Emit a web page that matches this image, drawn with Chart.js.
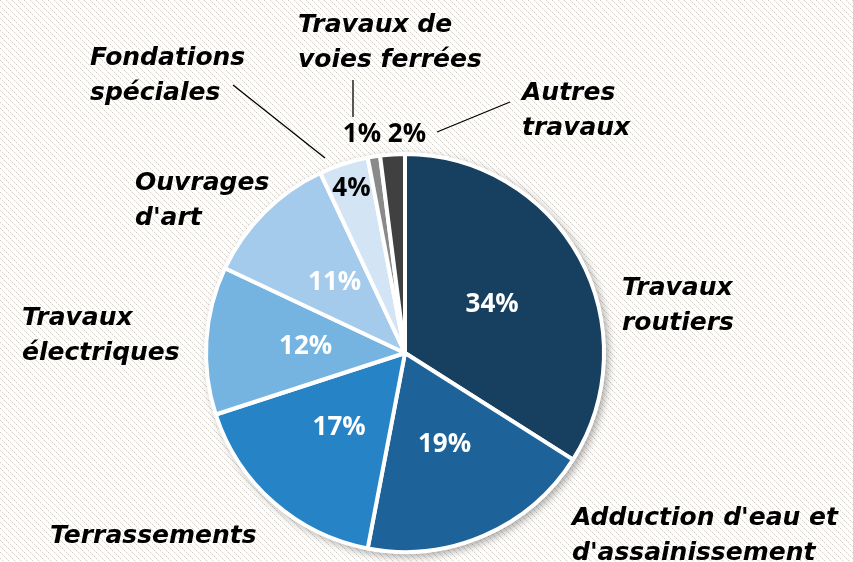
<!DOCTYPE html>
<html>
<head>
<meta charset="utf-8">
<script src="https://cdn.jsdelivr.net/npm/chart.js@4/dist/chart.umd.min.js"></script>
<style>
  html, body { margin: 0; padding: 0; background: #ffffff; }
  #wrap { position: relative; width: 853px; height: 562px; }
  canvas { display: block; }
</style>
</head>
<body>
<div id="wrap"><canvas id="c" width="853" height="562"></canvas></div>
<script>
// ---- data ----
const categories = [
  "Travaux routiers",
  "Adduction d'eau et d'assainissement",
  "Terrassements",
  "Travaux électriques",
  "Ouvrages d'art",
  "Fondations spéciales",
  "Travaux de voies ferrées",
  "Autres travaux"
];
const shares = [34, 19, 17, 12, 11, 4, 1, 2];
const sliceColors = ["#173f5f", "#1d6399", "#2683c6", "#75b3e1", "#a4cbeb", "#d3e5f5", "#8a8a8a", "#404040"];

// ---- layout (label placement, not data) ----
const catLabelLines = [
  ["Travaux", "routiers"],
  ["Adduction d'eau et", "d'assainissement"],
  ["Terrassements"],
  ["Travaux", "électriques"],
  ["Ouvrages", "d'art"],
  ["Fondations", "spéciales"],
  ["Travaux de", "voies ferrées"],
  ["Autres", "travaux"]
];
// left x, first-line center y
const catLabelPos = [[622, 288], [572, 518], [50, 536], [22, 318], [135, 183], [90, 58], [298, 25], [522, 93]];
const lineGap = 35;
const valRadial = [0.5, 0.5, 0.5, 0.5, 0.5, 0.87, null, null];
const valCustom = {6: [-43, -218], 7: [2, -218]};
const valColor = ["#fff", "#fff", "#fff", "#fff", "#fff", "#000", "#000", "#000"];
const leaders = {5: [[233, 85], [325, 158]], 6: [[353, 80], [353, 117]], 7: [[510, 102], [437, 132]]};

function makePattern(ctx) {
  const t = document.createElement('canvas');
  t.width = 6; t.height = 6;
  const g = t.getContext('2d');
  g.fillStyle = '#ffffff'; g.fillRect(0, 0, 6, 6);
  g.fillStyle = '#d6d0c6';
  [[0,0],[2,2],[4,4]].forEach(p => g.fillRect(p[0], p[1], 1, 1));
  g.fillStyle = '#ece8e2';
  [[1,1],[3,3],[5,5]].forEach(p => g.fillRect(p[0], p[1], 1, 1));
  return ctx.createPattern(t, 'repeat');
}

const bgPlugin = {
  id: 'bg',
  beforeDraw(chart) {
    const ctx = chart.ctx;
    ctx.save();
    ctx.fillStyle = makePattern(ctx);
    ctx.fillRect(0, 0, chart.width, chart.height);
    ctx.restore();
  },
  beforeDatasetsDraw(chart) {
    const arc = chart.getDatasetMeta(0).data[0];
    if (!arc) return;
    const {x, y, outerRadius} = arc.getProps(['x', 'y', 'outerRadius'], true);
    const ctx = chart.ctx;
    ctx.save();
    ctx.shadowColor = 'rgba(0,0,0,0.35)';
    ctx.shadowBlur = 8;
    ctx.shadowOffsetX = 3;
    ctx.shadowOffsetY = 3;
    ctx.fillStyle = '#ffffff';
    ctx.beginPath();
    ctx.arc(x, y, outerRadius + 1.5, 0, Math.PI * 2);
    ctx.fill();
    ctx.restore();
  }
};

const labelPlugin = {
  id: 'labels',
  afterDatasetsDraw(chart) {
    const ctx = chart.ctx;
    const meta = chart.getDatasetMeta(0);
    ctx.save();
    ctx.strokeStyle = '#000';
    ctx.lineWidth = 1.3;
    Object.values(leaders).forEach(seg => {
      ctx.beginPath();
      ctx.moveTo(seg[0][0], seg[0][1]);
      ctx.lineTo(seg[1][0], seg[1][1]);
      ctx.stroke();
    });
    ctx.font = "bold 26px 'Open Sans', Lato, sans-serif";
    ctx.textAlign = 'center';
    ctx.textBaseline = 'middle';
    meta.data.forEach((arc, i) => {
      const p = arc.getProps(['x', 'y', 'startAngle', 'endAngle', 'outerRadius'], true);
      let lx, ly;
      if (valRadial[i] !== null) {
        const a = (p.startAngle + p.endAngle) / 2;
        lx = p.x + Math.cos(a) * p.outerRadius * valRadial[i];
        ly = p.y + Math.sin(a) * p.outerRadius * valRadial[i];
      } else {
        lx = p.x + valCustom[i][0];
        ly = p.y + valCustom[i][1];
      }
      ctx.fillStyle = valColor[i];
      ctx.fillText(shares[i] + '%', lx, ly);
    });
    ctx.font = "italic bold 25px 'DejaVu Sans', sans-serif";
    ctx.textAlign = 'left';
    ctx.fillStyle = '#000';
    catLabelLines.forEach((lines, i) => {
      lines.forEach((ln, k) => {
        ctx.fillText(ln, catLabelPos[i][0], catLabelPos[i][1] + k * lineGap);
      });
    });
    ctx.restore();
  }
};

new Chart(document.getElementById('c'), {
  type: 'pie',
  data: {
    labels: categories,
    datasets: [{
      data: shares,
      backgroundColor: sliceColors,
      borderColor: '#ffffff',
      borderWidth: 4
    }]
  },
  options: {
    responsive: false,
    animation: false,
    rotation: 0,
    layout: { padding: { top: 152, bottom: 8, left: 204, right: 247 } },
    plugins: { legend: { display: false }, tooltip: { enabled: false } }
  },
  plugins: [bgPlugin, labelPlugin]
});
</script>
</body>
</html>
